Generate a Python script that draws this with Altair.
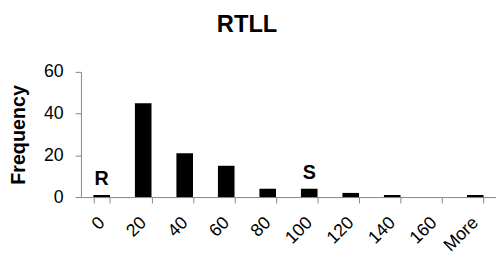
import altair as alt
import pandas as pd

bins = ["0", "20", "40", "60", "80", "100", "120", "140", "160", "More"]
freq = [1, 45, 21, 15, 4, 4, 2, 1, 0, 1]
ann_bins = ["0", "100"]
ann_vals = [1, 4]
ann_text = ["R", "S"]
y_ticks = [0, 20, 40, 60]

df = pd.DataFrame({"bin": bins, "freq": freq})
ann = pd.DataFrame({"bin": ann_bins, "freq": ann_vals, "label": ann_text})

FONT = "Liberation Sans"
GRAY = "#868686"

xenc = alt.X(
    "bin:N",
    sort=bins,
    scale=alt.Scale(paddingInner=0.6, paddingOuter=0.3),
    axis=alt.Axis(
        title=None, labelAngle=-45, labelAlign="right", labelBaseline="middle",
        tickBand="extent", tickSize=6, labelPadding=17,
        domainColor=GRAY, tickColor=GRAY, grid=False,
        labelFont=FONT, labelFontSize=18, labelColor="black",
    ),
)
yenc = alt.Y(
    "freq:Q",
    scale=alt.Scale(domain=[0, 60]),
    axis=alt.Axis(
        values=y_ticks, title="Frequency", grid=False,
        tickSize=6, labelPadding=12, domainColor=GRAY, tickColor=GRAY,
        labelFont=FONT, labelFontSize=18, labelColor="black",
        titleFont=FONT, titleFontSize=20, titleFontWeight="bold", titleColor="black",
        titleX=-53, titleY=63.5,
    ),
)

bars = alt.Chart(df).mark_bar(color="black").encode(x=xenc, y=yenc)
labels = alt.Chart(ann).mark_text(
    baseline="bottom", dy=-6, font=FONT, fontSize=20, fontWeight="bold", color="black"
).encode(x=alt.X("bin:N", sort=bins), y=alt.Y("freq:Q"), text="label:N")

chart = (
    alt.layer(bars, labels)
    .properties(
        width=421, height=127,
        title=alt.TitleParams(
            "RTLL", font=FONT, fontSize=24, fontWeight="bold", color="black",
            anchor="middle", frame="group", dx=-42, offset=26,
        ),
        autosize=alt.AutoSizeParams(type="none"),
        padding={"left": 74, "top": 63, "right": 0, "bottom": 60},
    )
    .configure_view(stroke=None)
)

chart.save("out.html", embed_options={"renderer": "svg", "actions": False})
